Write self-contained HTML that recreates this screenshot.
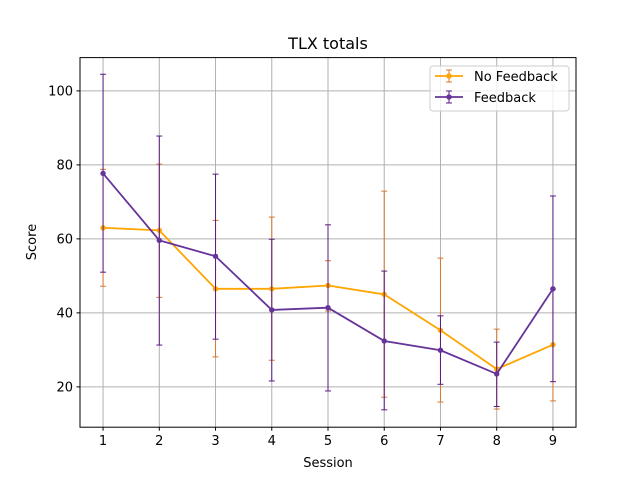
<!DOCTYPE html>
<html><head><meta charset="utf-8"><style>
body{margin:0;background:#fff}
svg text{font-family:"DejaVu Sans","Liberation Sans",sans-serif;fill:#000}
</style></head><body>
<svg id="chart" width="640" height="480" xmlns="http://www.w3.org/2000/svg"></svg>
<script>
const sessions=[1,2,3,4,5,6,7,8,9];
const noFbMean=[63,62.3,46.5,46.5,47.4,45,35.3,24.8,31.4];
const noFbLow=[47.2,44.2,28.1,27.2,40.5,17.2,15.9,14,16.2];
const noFbHigh=[78.8,80.2,65,65.9,54.1,72.9,54.8,35.6,46.4];
const fbMean=[77.7,59.6,55.3,40.8,41.4,32.4,29.9,23.5,46.5];
const fbLow=[51,31.3,32.9,21.6,18.9,13.8,20.7,14.7,21.4];
const fbHigh=[104.5,87.8,77.5,59.9,63.8,51.3,39.2,32.1,71.6];
const yTicks=[20,40,60,80,100];
const xTicks=[1,2,3,4,5,6,7,8,9];

const L=80,R=576,T=57.6,B=427.2,xmin=0.59,xmax=9.41,ymin=9.1,ymax=109;
const X=v=>L+(v-xmin)/(xmax-xmin)*(R-L);
const Y=v=>B-(v-ymin)/(ymax-ymin)*(B-T);
const svg=document.getElementById('chart');
const NS='http://www.w3.org/2000/svg';
function mk(tag,attrs,parent){const e=document.createElementNS(NS,tag);for(const k in attrs)e.setAttribute(k,attrs[k]);(parent||svg).appendChild(e);return e;}

const grid=mk('g',{});


xTicks.forEach(v=>{mk('line',{x1:X(v),x2:X(v),y1:T,y2:B,stroke:'#b0b0b0','stroke-width':1},grid);});
yTicks.forEach(v=>{mk('line',{x1:L,x2:R,y1:Y(v),y2:Y(v),stroke:'#b0b0b0','stroke-width':1},grid);});

function series(name,mean,lo,hi,lc,ec){
  const g=mk('g',{});
  
  
  sessions.forEach((s,i)=>{
    const x=X(s);
    mk('line',{x1:x,x2:x,y1:Y(lo[i]),y2:Y(hi[i]),stroke:ec,'stroke-width':1},g);
    mk('line',{x1:x-3,x2:x+3,y1:Y(lo[i]),y2:Y(lo[i]),stroke:ec,'stroke-width':1},g);
    mk('line',{x1:x-3,x2:x+3,y1:Y(hi[i]),y2:Y(hi[i]),stroke:ec,'stroke-width':1},g);
  });
  mk('polyline',{points:sessions.map((s,i)=>X(s)+','+Y(mean[i])).join(' '),fill:'none',stroke:lc,'stroke-width':1.8},g);
  sessions.forEach((s,i)=>{
    const c=mk('circle',{cx:X(s),cy:Y(mean[i]),r:2.7,fill:lc},g);
    
    
  });
}
series('no-feedback-series',noFbMean,noFbLow,noFbHigh,'#ffa500','#d9772e');
series('feedback-series',fbMean,fbLow,fbHigh,'#663399','#5a1a86');

mk('rect',{x:L,y:T,width:R-L,height:B-T,fill:'none',stroke:'#000','stroke-width':1});
xTicks.forEach(v=>{mk('line',{x1:X(v),x2:X(v),y1:B,y2:B+3.5,stroke:'#000'});
  const t=mk('text',{x:X(v),y:B+18,'text-anchor':'middle','font-size':13});t.textContent=v;
  });
yTicks.forEach(v=>{mk('line',{x1:L-3.5,x2:L,y1:Y(v),y2:Y(v),stroke:'#000'});
  const t=mk('text',{x:L-7,y:Y(v)+4.5,'text-anchor':'end','font-size':13});t.textContent=v;
  });
</script>
<svg width="640" height="480" style="position:absolute;left:0;top:0" xmlns="http://www.w3.org/2000/svg">
<text x="328" y="49" text-anchor="middle" font-size="16">TLX totals</text>
<text x="328" y="467" text-anchor="middle" font-size="13">Session</text>
<text x="36" y="242" text-anchor="middle" font-size="13" transform="rotate(-90 36 242)">Score</text>
<g>
<rect x="430" y="66" width="139" height="45" rx="3" fill="#fff" fill-opacity="0.8" stroke="#ccc"/>
<g>
<line x1="435" x2="463" y1="76" y2="76" stroke="#ffa500" stroke-width="1.8"/>
<line x1="449" x2="449" y1="70" y2="82" stroke="#d9772e"/>
<line x1="446" x2="452" y1="70" y2="70" stroke="#d9772e"/><line x1="446" x2="452" y1="82" y2="82" stroke="#d9772e"/>
<circle cx="449" cy="76" r="2.7" fill="#ffa500"/>
<text x="474" y="81" font-size="13">No Feedback</text></g>
<g>
<line x1="435" x2="463" y1="97" y2="97" stroke="#663399" stroke-width="1.8"/>
<line x1="449" x2="449" y1="91" y2="103" stroke="#5a1a86"/>
<line x1="446" x2="452" y1="91" y2="91" stroke="#5a1a86"/><line x1="446" x2="452" y1="103" y2="103" stroke="#5a1a86"/>
<circle cx="449" cy="97" r="2.7" fill="#663399"/>
<text x="474" y="102" font-size="13">Feedback</text></g>
</g>
</svg>
</body></html>
